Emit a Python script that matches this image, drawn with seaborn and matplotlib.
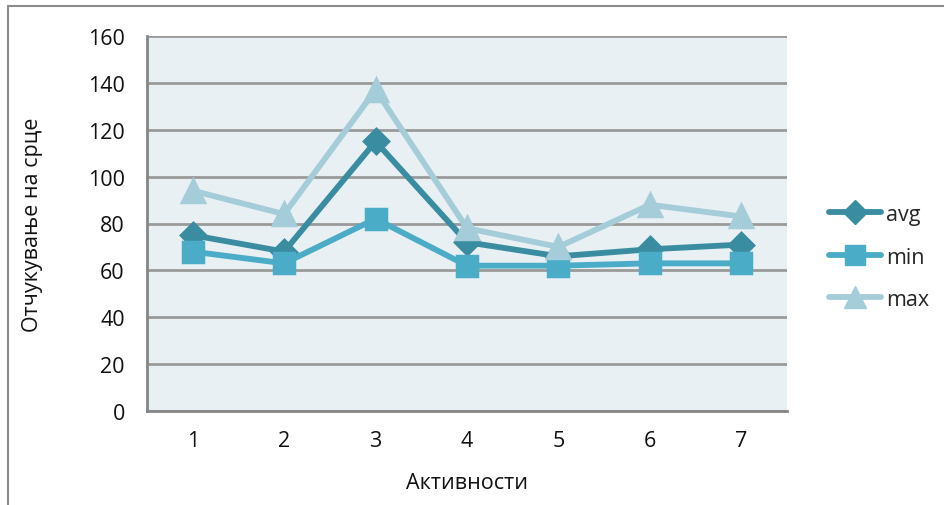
import matplotlib
matplotlib.use("Agg")
import matplotlib.pyplot as plt
from matplotlib.lines import Line2D
import seaborn as sns
import pandas as pd
import numpy as np

# Heart-rate measurements per activity
activities = ["1", "2", "3", "4", "5", "6", "7"]
avg_vals = [75, 68, 115, 72, 66, 69, 71]
min_vals = [68, 63, 82, 62, 62, 63, 63]
max_vals = [94, 84, 137, 78, 70, 88, 83]
series_names = ["avg", "min", "max"]
y_ticks = [0, 20, 40, 60, 80, 100, 120, 140, 160]

colors = {"avg": "#3a8da1", "min": "#4aacc6", "max": "#a5ccd9"}
markers = {"avg": "D", "min": "s", "max": "^"}
msizes = {"avg": 12, "min": 15, "max": 16}

df = pd.DataFrame({
    "pos": list(range(len(activities))) * 3,
    "value": avg_vals + min_vals + max_vals,
    "series": ["avg"] * 7 + ["min"] * 7 + ["max"] * 7,
})

sns.set_theme(style="white")
plt.rcParams["font.family"] = ["Open Sans", "DejaVu Sans"]

fig = plt.figure(figsize=(9.45, 5.06), dpi=100)
ax = fig.add_axes([147 / 945, 1 - 412 / 506, 640 / 945, 375 / 506])
ax.set_facecolor("#e8f0f4")

for name in series_names:
    sub = df[df["series"] == name]
    sns.lineplot(data=sub, x="pos", y="value", ax=ax, color=colors[name],
                 linewidth=4.2, marker=markers[name], markersize=msizes[name],
                 markeredgecolor=colors[name], markeredgewidth=2.5,
                 solid_joinstyle="round", legend=False, zorder=3)
for ln in ax.lines:
    ln.set_markeredgecolor(ln.get_color())
    ln.set_solid_capstyle("round")

ax.set_xlim(-0.5, len(activities) - 0.5)
ax.set_ylim(0, 160)
ax.set_yticks(y_ticks)
ax.set_yticklabels([str(t) for t in y_ticks], fontsize=15.5)
ax.set_xticks(range(len(activities)))
ax.set_xticklabels(activities, fontsize=15.5)
ax.set_xticks(np.arange(-0.5, len(activities)), minor=True)
ax.tick_params(axis="x", which="major", length=0, pad=14, colors="#111111")
ax.tick_params(axis="x", which="minor", length=8, width=2, color="#868686", direction="out")
ax.tick_params(axis="y", length=8, width=2, color="#868686", direction="out", pad=8, colors="#111111")
ax.tick_params(axis="y", color="#868686")
ax.yaxis.grid(True, color="#9a9a9a", linewidth=2)
ax.set_axisbelow(True)

for side in ["top", "right"]:
    ax.spines[side].set_visible(False)
for side in ["left", "bottom"]:
    ax.spines[side].set_color("#868686")
    ax.spines[side].set_linewidth(2)

ax.set_xlabel("Активности", fontsize=15.5, labelpad=15, color="#111111")
ax.set_ylabel("Отчукување на срце", fontsize=15.5, labelpad=32, color="#111111")

handles = [Line2D([0], [0], color=colors[n], linewidth=4.2, marker=markers[n],
                  markersize=msizes[n], markeredgecolor=colors[n],
                  solid_capstyle="round") for n in series_names]
fig.legend(handles, series_names, loc="center left",
           bbox_to_anchor=(810 / 945, 1 - 258 / 506), frameon=False,
           fontsize=15.5, handlelength=2.4, labelspacing=1.0, handletextpad=0.25)

# chart frame edges
fig.add_artist(Line2D([8 / 945, 8 / 945], [0, 1 - 7 / 506], transform=fig.transFigure,
                      color="#8c8c8c", linewidth=1.5))
fig.add_artist(Line2D([8 / 945, 1], [1 - 7 / 506, 1 - 7 / 506], transform=fig.transFigure,
                      color="#8c8c8c", linewidth=1.5))

fig.savefig("out.png", dpi=100, facecolor="white")
